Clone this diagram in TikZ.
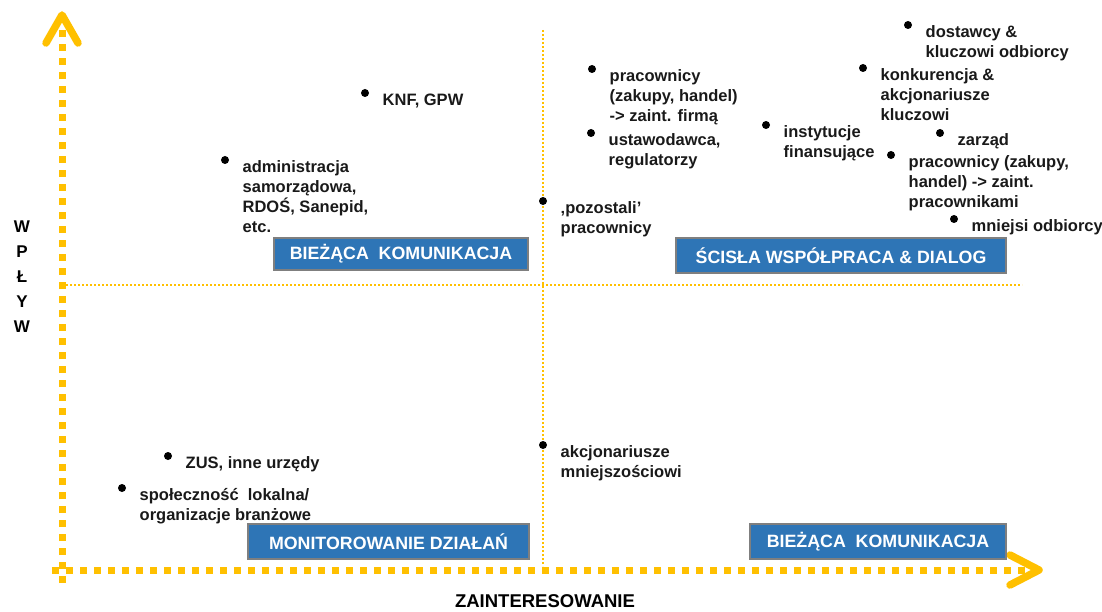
\documentclass[tikz,border=0pt]{standalone}
\usepackage{fontspec}
\setmainfont{Liberation Sans}
\usetikzlibrary{positioning}
\usetikzlibrary{arrows.meta}

\definecolor{axisyellow}{HTML}{FFC000}
\definecolor{quadblue}{HTML}{2E75B6}
\definecolor{quadgray}{HTML}{7F7F7F}

\begin{document}
\begin{tikzpicture}[x=1pt, y=-1pt,
    dot/.style={circle, fill=black, inner sep=0pt, minimum size=8pt},
    lbl/.style={below right=-2.5pt and 14.5pt of #1, align=left, inner sep=0pt,
      font=\bfseries\fontsize{16.5}{20}\selectfont, text=black!90},
    quad/.style={draw=quadgray, line width=2pt, fill=quadblue, text=white,
      inner sep=0pt, font=\bfseries\fontsize{17.8}{20}\selectfont},
    axis/.style={axisyellow, line width=7pt, dash pattern=on 7pt off 7pt},
    tip/.style={axisyellow, line width=7.5pt, line cap=round, line join=round},
    divider/.style={axisyellow, line width=1.6pt, dash pattern=on 1.6pt off 2.4pt}]
  \useasboundingbox (0,0) rectangle (1102,612);

  % axes and quadrant lines
  \coordinate (ybot) at (62,583);
  \coordinate (ytop) at (62,24);
  \coordinate (xleft) at (52,570);
  \coordinate (xright) at (1032,570);
  \coordinate (vtop) at (543,30);
  \coordinate (vbot) at (543,566);
  \coordinate (hleft) at (66,285);
  \coordinate (hright) at (1022,285);

  \draw[divider] (vtop) -- (vbot);
  \draw[divider] (hleft) -- (hright);
  \draw[axis] (ybot) -- (ytop);
  \draw[axis] (xleft) -- (xright);
  \draw[tip] (46,43) -- (62,15) -- (78,43);
  \draw[tip] (1010,555) -- (1039,570) -- (1010,585);

  \node[font=\bfseries\fontsize{17}{25}\selectfont, align=center] (wplyw) at (22,277) {W\\P\\Ł\\Y\\W};
  \node[font=\bfseries\fontsize{18.5}{20}\selectfont, inner sep=0pt] (zaint) at (545,601) {ZAINTERESOWANIE};

  % quadrant boxes
  \node[quad, minimum width=254pt, minimum height=32pt] (bk1) at (401,254) {BIEŻĄCA\ \ KOMUNIKACJA};
  \node[quad, minimum width=330pt, minimum height=35pt] (wsp) at (841,255.5) {ŚCISŁA WSPÓŁPRACA \& DIALOG};
  \node[quad, minimum width=281pt, minimum height=35pt] (mon) at (388.5,541.5) {MONITOROWANIE DZIAŁAŃ};
  \node[quad, minimum width=256pt, minimum height=35pt] (bk2) at (878,541.5) {BIEŻĄCA\ \ KOMUNIKACJA};

  % stakeholders
  \node[dot] (d1) at (365,93) {};
  \node[lbl=d1] (knf) {KNF, GPW};
  \node[dot] (d2) at (225,160) {};
  \node[lbl=d2] (adm) {administracja\\samorządowa,\\RDOŚ,\ Sanepid,\\etc.};
  \node[dot] (d3) at (592,69) {};
  \node[lbl=d3] (prac) {pracownicy\\(zakupy, handel)\\-> zaint. firmą};
  \node[dot] (d4) at (591,133) {};
  \node[lbl=d4] (ustaw) {ustawodawca,\\regulatorzy};
  \node[dot] (d5) at (766,125) {};
  \node[lbl=d5] (inst) {instytucje\\finansujące};
  \node[dot] (d6) at (908,25) {};
  \node[lbl=d6] (dost) {dostawcy \&\\kluczowi odbiorcy};
  \node[dot] (d7) at (863,68) {};
  \node[lbl=d7] (konk) {konkurencja \&\\akcjonariusze\\kluczowi};
  \node[dot] (d8) at (940,133) {};
  \node[lbl=d8] (zarz) {zarząd};
  \node[dot] (d9) at (891,155) {};
  \node[lbl=d9] (pracz) {pracownicy (zakupy,\\handel) -> zaint.\\pracownikami};
  \node[dot] (d10) at (954,219) {};
  \node[lbl=d10] (mniej) {mniejsi odbiorcy};
  \node[dot] (d11) at (543,201) {};
  \node[lbl=d11] (pozost) {‚pozostali’\\pracownicy};
  \node[dot] (d12) at (543,445) {};
  \node[lbl=d12] (akcmn) {akcjonariusze\\mniejszościowi};
  \node[dot] (d13) at (168,456) {};
  \node[lbl=d13] (zus) {ZUS,\ inne urzędy};
  \node[dot] (d14) at (122,488) {};
  \node[lbl=d14] (spol) {społeczność\ \ lokalna/\\organizacje branżowe};
\end{tikzpicture}
\end{document}
